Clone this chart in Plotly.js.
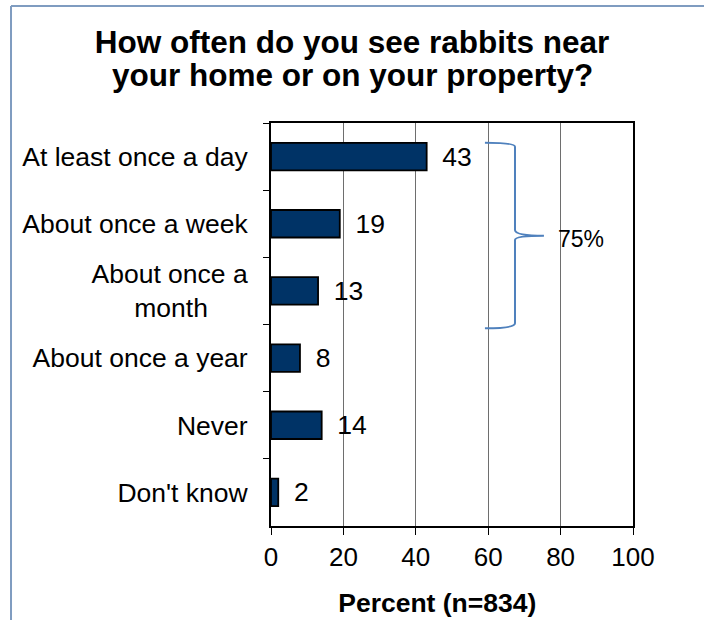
<!DOCTYPE html>
<html>
<head>
<meta charset="utf-8">
<script src="https://cdn.plot.ly/plotly-3.0.1.min.js"></script>
<style>
  html, body { margin: 0; padding: 0; background: #ffffff; }
  #chart { width: 704px; height: 620px; }
</style>
</head>
<body>
<div id="chart"></div>
<script>
// ---- data ----
const categories = [
  "At least once a day",
  "About once a week",
  "About once a<br>month\u2002\u2002\u2002",
  "About once a year",
  "Never",
  "Don't know"
];
const percents = [43, 19, 13, 8, 14, 2];
const xTickValues = [0, 20, 40, 60, 80, 100];
const titleLine1 = "How often do you see rabbits near";
const titleLine2 = "your home or on your property?";
const xTitle = "Percent (n=834)";
const braceLabel = "75%";

const FONT = "Arial, 'Liberation Sans', Helvetica, sans-serif";

const trace = {
  type: "bar",
  orientation: "h",
  x: percents,
  y: categories,
  marker: { color: "#003366", line: { color: "#000000", width: 1.8 } },
  texttemplate: "\u00a0\u2009%{x}",
  textposition: "outside",
  constraintext: "none",
  cliponaxis: false,
  textfont: { family: FONT, size: 26.5, color: "#000000" },
  outsidetextfont: { family: FONT, size: 26.5, color: "#000000" },
  hoverinfo: "skip"
};

// brace (x in data units, y in paper units)
const bracePath =
  "M 59.1,0.9511 Q 67.4,0.9511 67.4,0.9412 L 67.4,0.7345 Q 67.4,0.7203 75.4,0.7203 " +
  "M 75.4,0.7203 Q 67.4,0.7203 67.4,0.7097 L 67.4,0.5030 Q 67.4,0.4906 59.1,0.4906";

const layout = {
  width: 704,
  height: 620,
  margin: { l: 271, r: 71, t: 123, b: 94, pad: 0 },
  paper_bgcolor: "#ffffff",
  plot_bgcolor: "#ffffff",
  showlegend: false,
  bargap: 0.59,
  font: { family: FONT, color: "#000000" },
  title: {
    text: "<b>" + titleLine1 + "</b>",
    font: { family: FONT, size: 31.5, color: "#000000" },
    xref: "container", x: 0.5, xanchor: "center",
    yref: "container", y: 1 - 41.5 / 620, yanchor: "middle"
  },
  xaxis: {
    range: [0, 100],
    tickmode: "array",
    tickvals: xTickValues,
    showgrid: true,
    gridcolor: "#6e6e6e",
    gridwidth: 1,
    zeroline: false,
    showline: true,
    mirror: true,
    linecolor: "#000000",
    linewidth: 2,
    ticks: "outside",
    ticklen: 7,
    tickwidth: 1,
    tickcolor: "#000000",
    tickfont: { family: FONT, size: 26, color: "#000000" },
    title: {
      text: "<b>" + xTitle + "\u00a0\u00a0\u00a0\u00a0\u200b</b>",
      font: { family: FONT, size: 26.5, color: "#000000" },
      standoff: 22
    },
    fixedrange: true
  },
  yaxis: {
    type: "category",
    autorange: "reversed",
    tickson: "boundaries",
    showgrid: false,
    zeroline: false,
    showline: true,
    mirror: true,
    linecolor: "#000000",
    linewidth: 2,
    ticks: "outside",
    ticklen: 6,
    tickwidth: 1,
    tickcolor: "#000000",
    ticklabelstandoff: 16,
    tickfont: { family: FONT, size: 26.5, color: "#000000" },
    fixedrange: true
  },
  shapes: [
    // outer frame (left and top edges visible)
    { type: "line", xref: "paper", yref: "paper", x0: -0.7182, x1: -0.7182, y0: -0.4, y1: 1.2903,
      line: { color: "#7f9cc0", width: 2 }, layer: "below" },
    { type: "line", xref: "paper", yref: "paper", x0: -0.7182, x1: 1.4, y0: 1.2903, y1: 1.2903,
      line: { color: "#7f9cc0", width: 2 }, layer: "below" },
    // brace
    { type: "path", xref: "x", yref: "paper", path: bracePath,
      line: { color: "#4f81bd", width: 2 } }
  ],
  annotations: [
    { text: "<b>" + titleLine2 + "</b>", xref: "paper", yref: "paper",
      x: (352 - 271) / 362, y: (526 - 75) / 403, xanchor: "center", yanchor: "middle",
      showarrow: false, font: { family: FONT, size: 31.5, color: "#000000" } },
    { text: braceLabel, xref: "x", yref: "paper", x: 78.8, y: 0.7114,
      xanchor: "left", yanchor: "middle", showarrow: false,
      font: { family: FONT, size: 23, color: "#000000" } }
  ]
};

Plotly.newPlot("chart", [trace], layout, { displayModeBar: false, staticPlot: true });
</script>
</body>
</html>
